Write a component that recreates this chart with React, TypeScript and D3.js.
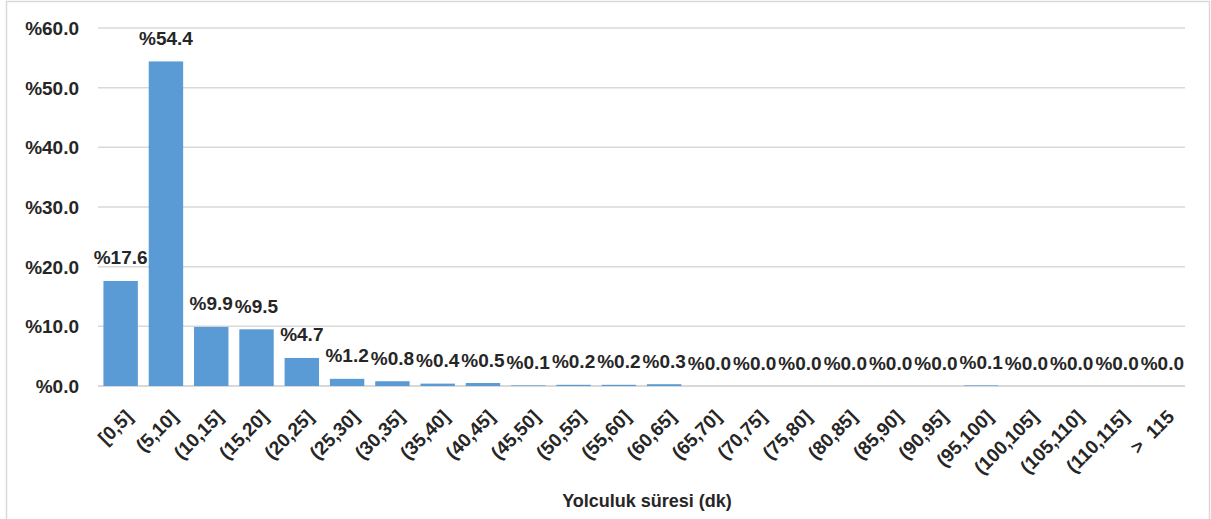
import React from "react";
import * as d3 from "d3";

const categories = [
  "[0,5]", "(5,10]", "(10,15]", "(15,20]", "(20,25]", "(25,30]", "(30,35]", "(35,40]",
  "(40,45]", "(45,50]", "(50,55]", "(55,60]", "(60,65]", "(65,70]", "(70,75]", "(75,80]",
  "(80,85]", "(85,90]", "(90,95]", "(95,100]", "(100,105]", "(105,110]", "(110,115]", ">  115",
];
const values = [
  17.6, 54.4, 9.9, 9.5, 4.7, 1.2, 0.8, 0.4, 0.5, 0.1, 0.2, 0.2, 0.3, 0.0, 0.0, 0.0,
  0.0, 0.0, 0.0, 0.1, 0.0, 0.0, 0.0, 0.0,
];
const yTicks = [0, 10, 20, 30, 40, 50, 60];
const xTitle = "Yolculuk süresi (dk)";

const W = 1211;
const H = 519;
const FONT = "'Liberation Sans', Arial, sans-serif";

export default function App() {
  const x = d3.scaleBand<string>().domain(categories).range([98, 1185]).paddingInner(0.24).paddingOuter(0.12);
  const y = d3.scaleLinear().domain([0, 60]).range([386, 28]);
  const fmt = (v: number) => "%" + d3.format(".1f")(v);
  return (
    <svg width={W} height={H} style={{ position: "absolute", left: 0, top: 0, background: "#fff" }} fontFamily={FONT}>
      <rect x={6.5} y={1.5} width={1203} height={540} fill="#fff" stroke="#D9D9D9" strokeWidth={1.5} />
      {yTicks.map((t) => (
        <g key={t}>
          <line x1={98} x2={1185} y1={y(t)} y2={y(t)} stroke="#D9D9D9" strokeWidth={t === 0 ? 2 : 1.5} />
          <text x={79} y={y(t)} dy="0.36em" textAnchor="end" fontSize={19} fontWeight="bold" fill="#262626">
            {fmt(t)}
          </text>
        </g>
      ))}
      {values.map((v, i) => {
        const c = categories[i];
        const bx = x(c)!;
        return (
          <g key={c}>
            <rect x={bx} y={y(v)} width={x.bandwidth()} height={y(0) - y(v)} fill="#5B9BD5" />
            <text x={bx + x.bandwidth() / 2} y={y(v) - 16.5} textAnchor="middle" fontSize={19} fontWeight="bold" fill="#262626">
              {fmt(v)}
            </text>
          </g>
        );
      })}
      {categories.map((c) => {
        const cx = x(c)! + x.bandwidth() / 2;
        return (
          <text
            key={"l" + c}
            transform={`translate(${cx + 13},${418}) rotate(-45)`}
            textAnchor="end"
            fontSize={19}
            fontWeight="bold"
            fill="#262626"
            style={{ whiteSpace: "pre" }}
          >
            {c}
          </text>
        );
      })}
      <text x={647} y={507} textAnchor="middle" fontSize={18} fontWeight="bold" fill="#262626">
        {xTitle}
      </text>
    </svg>
  );
}
